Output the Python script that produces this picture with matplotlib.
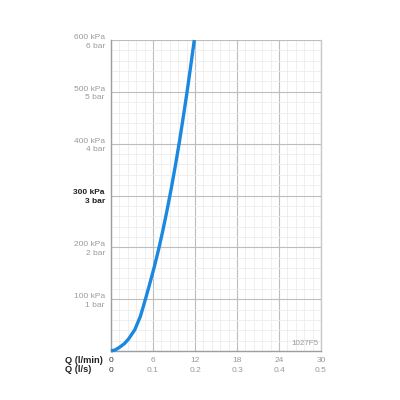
import matplotlib
matplotlib.use("Agg")
import matplotlib.pyplot as plt
from matplotlib.ticker import MultipleLocator

# Data
flow_lpm = [0, 0.6, 1.2, 1.9, 2.5, 3.4, 4.2, 4.9, 5.5, 6.2, 6.8, 7.4, 8.0, 8.6,
            9.2, 9.8, 10.4, 10.9, 11.4, 11.9]
pressure_kpa = [0, 2, 7, 14, 23, 41, 67, 99, 128, 163, 196, 232, 271, 313,
                358, 406, 458, 503, 551, 600]

x_ticks = [0, 6, 12, 18, 24, 30]
x_ticks_ls = ["0", "0.1", "0.2", "0.3", "0.4", "0.5"]
y_ticks = [100, 200, 300, 400, 500, 600]
y_labels = ["100 kPa\n1 bar", "200 kPa\n2 bar", "300 kPa\n3 bar",
            "400 kPa\n4 bar", "500 kPa\n5 bar", "600 kPa\n6 bar"]
code_label = "1027F5"

plt.rcParams['font.family'] = ['Liberation Sans', 'DejaVu Sans']

fig = plt.figure(figsize=(4, 4), dpi=100)
ax = fig.add_axes([0.2775, 0.1225, 0.525, 0.7775])

ax.set_xlim(0, 30)
ax.set_ylim(0, 600)

ax.xaxis.set_minor_locator(MultipleLocator(1.2))
ax.yaxis.set_minor_locator(MultipleLocator(20))
ax.set_xticks(x_ticks)
ax.set_yticks(y_ticks)
ax.grid(which='minor', color='#ececec', linewidth=0.6)
ax.grid(which='major', color='#bdbdbd', linewidth=0.8)
ax.set_axisbelow(True)

ax.plot(flow_lpm, pressure_kpa, color='#1a88e0', linewidth=2.4,
        solid_capstyle='butt', solid_joinstyle='round', zorder=3, clip_on=False)

ax.spines['top'].set_visible(False)
ax.spines['left'].set_color('#9e9e9e')
ax.spines['bottom'].set_color('#9e9e9e')
ax.spines['right'].set_color('#c8c8c8')
for s in ['left', 'bottom', 'right']:
    ax.spines[s].set_linewidth(1.0)

ax.tick_params(which='both', length=0)
ax.set_yticklabels(y_labels, fontsize=6.0, color='#9a9a9a', linespacing=1.3)
for lab in ax.get_yticklabels():
    lab.set_horizontalalignment('right')
ax.tick_params(axis='y', pad=4.5)
ylabs = ax.get_yticklabels()
ylabs[2].set_fontweight('bold')
ylabs[2].set_color('#222222')

xl = [f"{t}\n{l}" for t, l in zip(x_ticks, x_ticks_ls)]
ax.set_xticklabels(xl, fontsize=6.0, color='#9a9a9a', linespacing=1.55)
ax.tick_params(axis='x', pad=4.5)
ax.get_xticklabels()[0].set_color('#333333')

fig.text(65 / 400, 1 - 360.5 / 400, "Q (l/min)", fontsize=6.7, fontweight='bold',
         color='#222222', ha='left', va='center')
fig.text(65 / 400, 1 - 369.5 / 400, "Q (l/s)", fontsize=6.7, fontweight='bold',
         color='#222222', ha='left', va='center')

ax.text(0.99, 0.012, code_label, transform=ax.transAxes, fontsize=5.8,
        color='#9a9a9a', ha='right', va='bottom')

fig.savefig("out.png", dpi=100, facecolor='white')
